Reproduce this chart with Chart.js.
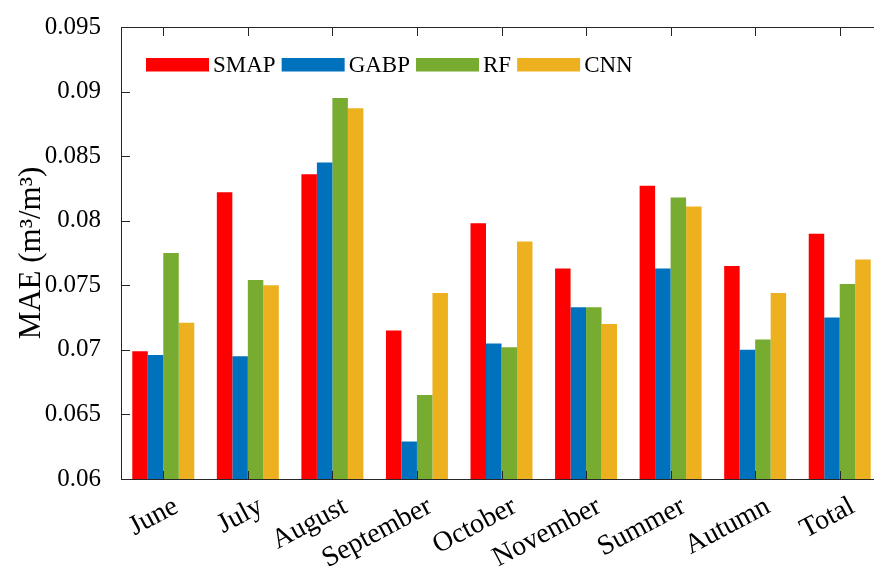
<!DOCTYPE html>
<html>
<head>
<meta charset="utf-8">
<script src="https://cdn.jsdelivr.net/npm/chart.js@4/dist/chart.umd.min.js"></script>
<style>
  html, body { margin: 0; padding: 0; background: #ffffff; overflow: hidden; }
  #wrap { position: absolute; left: 0; top: 0; width: 890px; height: 569px; }
</style>
</head>
<body>
<div id="wrap"><canvas id="chart"></canvas></div>
<script>
// Monthly and seasonal MAE of soil moisture products (m3/m3)
const categories = ['June', 'July', 'August', 'September', 'October', 'November', 'Summer', 'Autumn', 'Total'];
const smap = [0.0699, 0.0822, 0.0836, 0.0715, 0.0798, 0.0763, 0.0827, 0.0765, 0.0790];
const gabp = [0.0696, 0.0695, 0.0845, 0.0629, 0.0705, 0.0733, 0.0763, 0.0700, 0.0725];
const rf   = [0.0775, 0.0754, 0.0895, 0.0665, 0.0702, 0.0733, 0.0818, 0.0708, 0.0751];
const cnn  = [0.0721, 0.0750, 0.0887, 0.0744, 0.0784, 0.0720, 0.0811, 0.0744, 0.0770];
const seriesNames = ['SMAP', 'GABP', 'RF', 'CNN'];
const yTickValues = [0.06, 0.065, 0.07, 0.075, 0.08, 0.085, 0.09, 0.095];
const yTickLabels = ['0.06', '0.065', '0.07', '0.075', '0.08', '0.085', '0.09', '0.095'];

const colors = ['#ff0000', '#0072bd', '#77ac30', '#edb120'];
const FONT = "'Liberation Serif', 'Times New Roman', serif";
const AXIS = '#262626';

// Box outline, inward tick marks and the in-plot legend
const axesDecor = {
  id: 'axesDecor',
  afterDatasetsDraw(chart) {
    const { ctx, chartArea: a, scales } = chart;
    ctx.save();
    ctx.strokeStyle = AXIS;
    ctx.lineWidth = 1;
    ctx.beginPath();
    // top border
    ctx.moveTo(a.left, a.top + 0.5);
    ctx.lineTo(a.right, a.top + 0.5);
    // y ticks pointing inward
    scales.y.ticks.forEach((t, i) => {
      const py = Math.round(scales.y.getPixelForTick(i)) + 0.5;
      ctx.moveTo(a.left, py);
      ctx.lineTo(a.left + 9, py);
    });
    // x ticks on bottom and top, pointing inward
    scales.x.ticks.forEach((t, i) => {
      const px = Math.round(scales.x.getPixelForTick(i)) + 0.5;
      ctx.moveTo(px, a.bottom);
      ctx.lineTo(px, a.bottom - 8);
      ctx.moveTo(px, a.top);
      ctx.lineTo(px, a.top + 9);
    });
    ctx.stroke();

    // legend
    ctx.font = '23px ' + FONT;
    ctx.textBaseline = 'middle';
    ctx.fillStyle = '#000';
    let x = a.left + 25;
    const yTop = a.top + 31;
    chart.data.datasets.forEach(ds => {
      ctx.fillStyle = ds.backgroundColor;
      ctx.fillRect(x, yTop, 63, 13.5);
      ctx.fillStyle = '#000';
      ctx.textAlign = 'left';
      ctx.fillText(ds.label, x + 67, yTop + 8);
      x += 67 + ctx.measureText(ds.label).width + 6;
    });
    ctx.restore();
  }
};

const values = [smap, gabp, rf, cnn];

new Chart(document.getElementById('chart'), {
  type: 'bar',
  data: {
    labels: categories,
    datasets: seriesNames.map((name, i) => ({
      label: name,
      data: values[i],
      backgroundColor: colors[i],
      borderWidth: 0,
      categoryPercentage: 0.733,
      barPercentage: 1.0
    }))
  },
  options: {
    responsive: true,
    maintainAspectRatio: false,
    devicePixelRatio: 1,
    animation: false,
    layout: { padding: { top: 22, right: 8, left: 0, bottom: 0 } },
    plugins: {
      legend: { display: false },
      tooltip: { enabled: false }
    },
    scales: {
      x: {
        grid: { display: false },
        border: { display: true, color: AXIS, width: 1 },
        ticks: {
          color: '#000',
          font: { family: FONT, size: 28 },
          maxRotation: 28,
          minRotation: 28,
          autoSkip: false,
          padding: 3,
          labelOffset: 13
        },
        afterFit(scale) { scale.height = 90; }
      },
      y: {
        min: 0.06,
        max: 0.095,
        grid: { display: false },
        border: { display: true, color: AXIS, width: 1 },
        afterBuildTicks(scale) {
          scale.ticks = yTickValues.map(v => ({ value: v }));
        },
        ticks: {
          color: '#000',
          font: { family: FONT, size: 25 },
          padding: 12,
          callback(value) {
            const idx = yTickValues.findIndex(v => Math.abs(v - value) < 1e-9);
            return idx >= 0 ? yTickLabels[idx] : '';
          }
        },
        title: {
          display: true,
          text: 'MAE (m³/m³)',
          color: '#000',
          font: { family: FONT, size: 31 },
          padding: { top: 13, bottom: 0 }
        },
        afterFit(scale) { scale.width = 121; }
      }
    }
  },
  plugins: [axesDecor]
});
</script>
</body>
</html>
